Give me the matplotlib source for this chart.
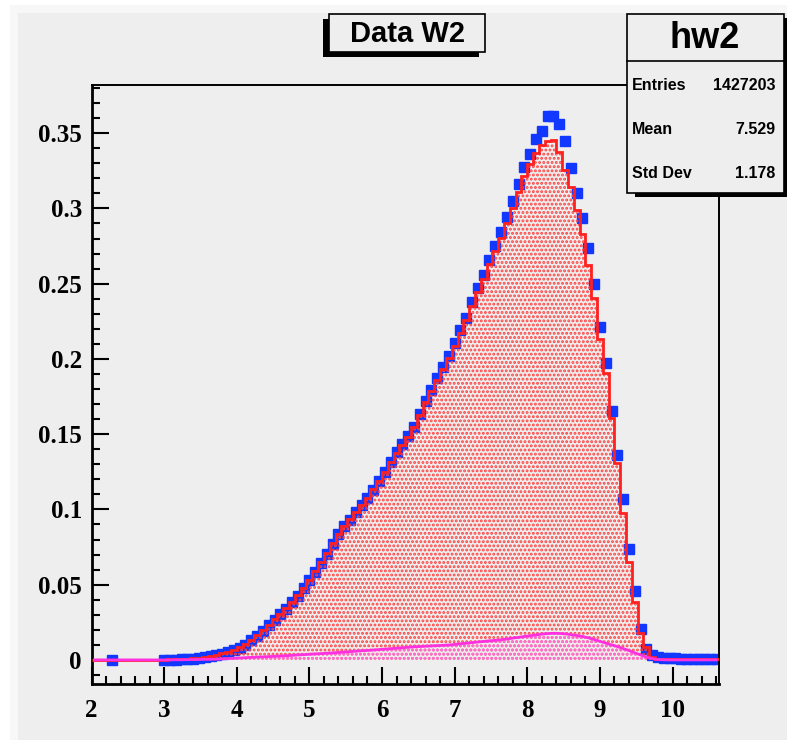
import numpy as np
import matplotlib
import matplotlib.pyplot as plt
from matplotlib.patches import Rectangle
from matplotlib.ticker import MultipleLocator

# ---- data (108 bins of width 0.08 starting at 2.0) ----
bin_lo, bin_w, n_bins = 2.0, 0.08, 108

data_w2 = [
    np.nan, np.nan, np.nan, 0.0, np.nan, np.nan, np.nan, np.nan, np.nan, np.nan,
    np.nan, np.nan, 0.0, 0.0, 0.0002, 0.0004, 0.0006, 0.0009, 0.0013, 0.0018,
    0.0024, 0.0031, 0.0040, 0.0050, 0.0063, 0.0080, 0.0101, 0.0130, 0.0160, 0.0195,
    0.0230, 0.0266, 0.0302, 0.0340, 0.0382, 0.0425, 0.0476, 0.0529, 0.0584, 0.0642,
    0.0703, 0.0770, 0.0836, 0.0887, 0.0933, 0.0980, 0.1028, 0.1077, 0.1132, 0.1187,
    0.1248, 0.1313, 0.1379, 0.1433, 0.1485, 0.1549, 0.1637, 0.1720, 0.1793, 0.1870,
    0.1948, 0.2019, 0.2103, 0.2190, 0.2275, 0.2375, 0.2470, 0.2560, 0.2660, 0.2749,
    0.2844, 0.2944, 0.3048, 0.3159, 0.3276, 0.3360, 0.3459, 0.3515, 0.3612, 0.3612,
    0.3564, 0.3448, 0.3269, 0.3105, 0.2933, 0.2740, 0.2501, 0.2213, 0.1974, 0.1656,
    0.1361, 0.1067, 0.0735, 0.0460, 0.0204, 0.0071, 0.0030, 0.0020, 0.0015, 0.0012,
    0.0010, 0.0008, 0.0007, 0.0006, 0.0005, 0.0005, 0.0004, 0.0004,
]

mc_w2 = [
    0, 0, 0, 0, 0, 0, 0, 0, 0, 0,
    0, 0, 0.0002, 0.0003, 0.0004, 0.0006, 0.0008, 0.0011, 0.0015, 0.0020,
    0.0026, 0.0034, 0.0043, 0.0054, 0.0067, 0.0084, 0.0105, 0.0133, 0.0164, 0.0198,
    0.0233, 0.0269, 0.0306, 0.0344, 0.0386, 0.0430, 0.0480, 0.0534, 0.0589, 0.0648,
    0.0709, 0.0775, 0.0838, 0.0890, 0.0935, 0.0982, 0.1030, 0.1079, 0.1133, 0.1188,
    0.1248, 0.1312, 0.1376, 0.1430, 0.1482, 0.1545, 0.1630, 0.1712, 0.1784, 0.1860,
    0.1936, 0.2006, 0.2088, 0.2173, 0.2256, 0.2352, 0.2445, 0.2532, 0.2628, 0.2714,
    0.2806, 0.2903, 0.3002, 0.3108, 0.3218, 0.3296, 0.3370, 0.3420, 0.3450, 0.3453,
    0.3375, 0.3254, 0.3139, 0.2988, 0.2833, 0.2623, 0.2402, 0.2130, 0.1906, 0.1605,
    0.1306, 0.0974, 0.0653, 0.0387, 0.0177, 0.0088, 0.0020, 0.0005, 0.0005, 0.0005,
    0.0005, 0.0005, 0.0005, 0.0005, 0.0005, 0.0005, 0.0005, 0.0005,
]

bkg_w2 = [
    0, 0, 0, 0, 0, 0, 0, 0, 0, 0,
    0, 0, 0.0, 0.0, 0.0001, 0.0001, 0.0002, 0.0002, 0.0003, 0.0004,
    0.0004, 0.0005, 0.0007, 0.0009, 0.0011, 0.0013, 0.0015, 0.0017, 0.0019, 0.0020,
    0.0022, 0.0024, 0.0026, 0.0028, 0.0030, 0.0033, 0.0035, 0.0038, 0.0040, 0.0042,
    0.0045, 0.0047, 0.0050, 0.0052, 0.0055, 0.0058, 0.0061, 0.0063, 0.0066, 0.0069,
    0.0072, 0.0075, 0.0078, 0.0081, 0.0084, 0.0087, 0.0089, 0.0091, 0.0093, 0.0095,
    0.0097, 0.0099, 0.0103, 0.0107, 0.0111, 0.0115, 0.0119, 0.0123, 0.0127, 0.0130,
    0.0134, 0.0139, 0.0145, 0.0150, 0.0156, 0.0161, 0.0166, 0.0171, 0.0175, 0.0177,
    0.0176, 0.0173, 0.0168, 0.0162, 0.0156, 0.0147, 0.0136, 0.0124, 0.0112, 0.0100,
    0.0089, 0.0076, 0.0062, 0.0047, 0.0033, 0.0019, 0.0009, 0.0003, 0.0001, 0.0,
    0, 0, 0, 0, 0, 0, 0, 0,
]

y_ticks = [0, 0.05, 0.1, 0.15, 0.2, 0.25, 0.3, 0.35]
y_labels = ['0', '0.05', '0.1', '0.15', '0.2', '0.25', '0.3', '0.35']
x_ticks = [2, 3, 4, 5, 6, 7, 8, 9, 10]

title = 'Data W2'
stats_name = 'hw2'
stats_rows = [('Entries', '1427203'), ('Mean', '7.529'), ('Std Dev', '1.178')]

edges = bin_lo + bin_w * np.arange(n_bins + 1)
centers = 0.5 * (edges[:-1] + edges[1:])

# ---- figure ----
W, H = 787, 740
plt.rcParams['hatch.linewidth'] = 1.4
fig = plt.figure(figsize=(W / 100, H / 100), dpi=100)
fig.patch.set_facecolor('white')

def px_rect(x0, y0, x1, y1, **kw):
    # rectangle given in pixel coords, origin top-left
    r = Rectangle((x0 / W, 1 - y1 / H), (x1 - x0) / W, (y1 - y0) / H,
                  transform=fig.transFigure, **kw)
    fig.add_artist(r)
    return r

# canvas background with light bevel
px_rect(10, 5, W, H, facecolor='#f7f7f7', edgecolor='none', zorder=0)
px_rect(18, 13, W, H, facecolor='#eeeeee', edgecolor='none', zorder=0)

ax = fig.add_axes([91.5 / W, 1 - 684 / H, (719 - 91.5) / W, (684 - 85) / H])
ax.set_facecolor('#eeeeee')

ax.plot(centers, data_w2, ls='none', marker='s', ms=7.3, color='#1238ff',
        mec='#1238ff', zorder=2)
ax.stairs(mc_w2, edges, fill=True, facecolor='none', edgecolor='#ff4040',
          hatch='....', linewidth=0, zorder=3)
ax.fill_between(centers, 0, bkg_w2, facecolor='none', edgecolor='#ff70e8',
                hatch='....', linewidth=0, zorder=3.5)
ax.stairs(mc_w2, edges, color='#ff2020', lw=2, zorder=4)
ax.plot(centers, bkg_w2, color='#ff30e0', lw=2, zorder=5)

ax.set_xlim(edges[0], edges[-1])
ax.set_ylim(-0.016, 0.382)

ax.set_xticks(x_ticks)
ax.set_yticks(y_ticks)
ax.set_yticklabels(y_labels)
ax.xaxis.set_minor_locator(MultipleLocator(0.2))
ax.yaxis.set_minor_locator(MultipleLocator(0.01))
ax.tick_params(which='both', direction='in', top=False, right=False,
               width=1.5, color='black')
ax.tick_params(which='major', length=12)
ax.tick_params(which='minor', length=6)
ax.tick_params(axis='x', pad=11)
ax.tick_params(axis='y', pad=7)
for lab in ax.get_xticklabels() + ax.get_yticklabels():
    lab.set_family('Liberation Serif')
    lab.set_fontweight('bold')
    lab.set_fontsize(18)
for side in ['left', 'bottom']:
    ax.spines[side].set_linewidth(2.0)
for side in ['top', 'right']:
    ax.spines[side].set_linewidth(1.4)

# ---- title box ----
px_rect(323, 19, 479, 57, facecolor='black', edgecolor='none', zorder=10)
px_rect(329, 14, 485, 52, facecolor='#eeeeee', edgecolor='black', lw=1.2, zorder=11)
fig.text(407 / W, 1 - 34 / H, title, ha='center', va='center', fontsize=21,
         fontweight='bold', family='Liberation Sans', zorder=12)

# ---- stats box ----
px_rect(635, 18, 792, 197, facecolor='black', edgecolor='none', zorder=10)
px_rect(627, 14, 784, 193, facecolor='#eeeeee', edgecolor='black', lw=1.2, zorder=11)
fig.add_artist(plt.Line2D([627 / W, 784 / W], [1 - 61 / H, 1 - 61 / H],
                          transform=fig.transFigure, color='black', lw=1.2, zorder=12))
fig.text(705 / W, 1 - 39 / H, stats_name, ha='center', va='center', fontsize=26,
         fontweight='bold', family='Liberation Sans', zorder=12)
for i, (name, val) in enumerate(stats_rows):
    yy = 1 - (86 + 44 * i) / H
    fig.text(632 / W, yy, name, ha='left', va='center', fontsize=11.5,
             fontweight='bold', family='Liberation Sans', zorder=12)
    fig.text(775 / W, yy, val, ha='right', va='center', fontsize=11.5,
             fontweight='bold', family='Liberation Sans', zorder=12)

fig.savefig('out.png', dpi=100)
